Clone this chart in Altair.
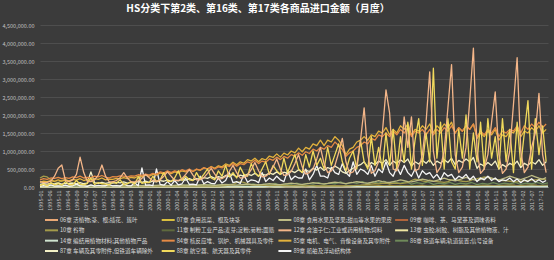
import altair as alt
import pandas as pd

TITLE = "HS分类下第2类、第16类、第17类各商品进口金额（月度）"

KEYS = ["06", "07", "08", "09", "10", "11", "12", "13", "14", "84", "85", "86", "87", "88", "89"]
LABELS = {
    "06": "06章 活植物;茎、根;插花、簇叶",
    "07": "07章 食用蔬菜、根及块茎",
    "08": "08章 食用水果及坚果;甜瓜等水果的果皮",
    "09": "09章 咖啡、茶、马黛茶及调味香料",
    "10": "10章 谷物",
    "11": "11章 制粉工业产品;麦芽;淀粉;菊粉;面筋",
    "12": "12章 含油子仁;工业或药用植物;饲料",
    "13": "13章 虫胶;树胶、树脂及其他植物液、汁",
    "14": "14章 编结用植物材料;其他植物产品",
    "84": "84章 核反应堆、锅炉、机械器具及零件",
    "85": "85章 电机、电气、音像设备及其零附件",
    "86": "86章 铁道车辆;轨道装置;信号设备",
    "87": "87章 车辆及其零附件,但铁道车辆除外",
    "88": "88章 航空器、航天器及其零件",
    "89": "89章 船舶及浮动结构体",
}
COLORS = {
    "06": "#e9a875", "07": "#d9bf3f", "08": "#bdbb84", "09": "#b0643c",
    "10": "#a39a4a", "11": "#5f6a3e", "12": "#f4b689", "13": "#efe6a2",
    "14": "#cfe3cf", "84": "#e58a45", "85": "#e3b23c", "86": "#6f8a5a",
    "87": "#f3f0c6", "88": "#f1da5c", "89": "#f5f5f5",
}

# ---- bi-monthly values (Jan, Mar, May, Jul, Sep, Nov), thousands ----
s12 = [
    150, 120, 130, 160, 300, 520,
    610, 180, 150, 200, 350, 830,
    400, 160, 150, 200, 330, 610,
    300, 150, 140, 180, 260, 400,
    250, 150, 140, 170, 240, 350,
    260, 170, 160, 200, 300, 420,
    300, 190, 180, 230, 350, 480,
    330, 200, 200, 260, 380, 520,
    360, 220, 230, 290, 430, 600,
    400, 250, 260, 330, 480, 680,
    450, 280, 300, 380, 550, 780,
    500, 320, 340, 430, 650, 900,
    560, 360, 400, 500, 780, 1100,
    650, 400, 450, 600, 950, 1350,
    700, 380, 420, 600, 1300, 2200,
    900, 380, 450, 700, 1500, 2700,
    2050, 500, 450, 750, 1950, 1100,
    1950, 450, 500, 900, 1800, 3200,
    1000, 400, 550, 1000, 2200, 3400,
    900, 400, 550, 1100, 2400, 3860,
    1000, 380, 500, 900, 1800, 2640,
    900, 380, 500, 1000, 2300, 3590,
    1000, 400, 550, 1100, 1500, 2600,
    900, 400,
]
s84 = [
    200, 230, 210, 250, 240, 270,
    230, 260, 240, 280, 260, 300,
    250, 270, 260, 300, 280, 320,
    270, 250, 290, 280, 310, 300,
    280, 310, 300, 340, 320, 360,
    330, 380, 350, 420, 390, 450,
    400, 450, 420, 480, 440, 500,
    430, 500, 470, 540, 500, 560,
    500, 560, 530, 600, 570, 650,
    580, 650, 620, 700, 660, 740,
    650, 720, 690, 780, 740, 830,
    760, 850, 800, 900, 860, 950,
    880, 980, 930, 1050, 1000, 1100,
    1050, 1150, 1100, 1250, 1150, 1050,
    850, 950, 1000, 1100, 1150, 1250,
    1200, 1350, 1300, 1450, 1400, 1500,
    1400, 1550, 1450, 1600, 1500, 1650,
    1400, 1550, 1500, 1600, 1450, 1600,
    1450, 1600, 1500, 1650, 1550, 1700,
    1500, 1650, 1550, 1700, 1600, 1750,
    1400, 1550, 1450, 1600, 1500, 1650,
    1400, 1550, 1500, 1600, 1550, 1700,
    1500, 1700, 1600, 1750, 1650, 1800,
    1650, 1750,
]
s85 = [
    130, 160, 150, 180, 160, 200,
    160, 190, 170, 210, 190, 230,
    180, 210, 190, 230, 210, 250,
    200, 220, 210, 240, 230, 260,
    230, 270, 250, 300, 280, 330,
    300, 350, 330, 390, 360, 420,
    370, 420, 390, 450, 420, 480,
    430, 490, 460, 530, 500, 570,
    520, 590, 560, 640, 600, 690,
    620, 700, 660, 760, 720, 800,
    700, 790, 750, 860, 820, 920,
    830, 940, 890, 1000, 950, 1080,
    980, 1100, 1050, 1200, 1150, 1300,
    1150, 1300, 1250, 1400, 1300, 1150,
    900, 1050, 1100, 1250, 1300, 1400,
    1300, 1450, 1400, 1550, 1500, 1650,
    1450, 1600, 1500, 1700, 1600, 1750,
    1450, 1600, 1550, 1700, 1600, 1750,
    1500, 1700, 1600, 1750, 1650, 1800,
    1500, 1650, 1550, 1700, 1600, 1750,
    1350, 1500, 1400, 1550, 1450, 1600,
    1300, 1450, 1400, 1550, 1500, 1650,
    1400, 1550, 1500, 1650, 1550, 1700,
    1500, 1600,
]
s88 = [
    40, 80, 30, 120, 60, 90,
    50, 150, 70, 60, 180, 80,
    60, 100, 250, 70, 120, 90,
    80, 60, 140, 100, 200, 70,
    90, 150, 80, 280, 100, 130,
    120, 300, 150, 200, 400, 160,
    150, 250, 450, 180, 300, 200,
    180, 400, 220, 350, 500, 250,
    200, 450, 300, 600, 280, 400,
    250, 550, 350, 300, 650, 400,
    300, 500, 700, 350, 600, 450,
    350, 800, 400, 650, 900, 500,
    400, 900, 550, 1000, 600, 800,
    500, 1100, 600, 900, 1200, 700,
    450, 800, 1000, 500, 1300, 700,
    500, 1400, 600, 1100, 500, 1500,
    600, 1600, 500, 1400, 700, 1800,
    500, 1300, 1900, 600, 1500, 700,
    3300, 800, 1800, 500, 1900, 700,
    500, 1600, 800, 2000, 500, 1500,
    700, 1800, 500, 1900, 800, 1400,
    500, 1900, 700, 1600, 400, 1800,
    600, 1500, 2400, 500, 1900, 900,
    1700, 700,
]
s87 = [
    70, 90, 80, 100, 85, 110,
    80, 100, 90, 110, 95, 120,
    90, 110, 420, 120, 100, 130,
    100, 120, 110, 130, 115, 140,
    110, 130, 120, 150, 130, 160,
    130, 160, 140, 180, 160, 200,
    160, 190, 170, 210, 190, 230,
    190, 230, 210, 260, 240, 290,
    240, 290, 260, 320, 290, 350,
    280, 330, 300, 360, 320, 380,
    300, 350, 330, 390, 350, 420,
    350, 410, 380, 450, 400, 480,
    400, 470, 430, 520, 470, 550,
    460, 540, 500, 580, 520, 420,
    380, 460, 520, 580, 620, 700,
    560, 680, 620, 720, 660, 760,
    600, 720, 650, 760, 680, 780,
    580, 700, 640, 740, 660, 760,
    600, 720, 660, 760, 680, 800,
    620, 740, 680, 780, 700, 820,
    520, 640, 580, 680, 600, 720,
    500, 620, 560, 660, 600, 720,
    540, 660, 600, 700, 640, 760,
    600, 700,
]
s89 = [
    20, 40, 15, 60, 25, 30,
    25, 50, 20, 35, 80, 30,
    30, 20, 60, 25, 45, 30,
    35, 70, 30, 40, 25, 90,
    40, 30, 120, 35, 530, 50,
    60, 40, 500, 70, 50, 150,
    50, 180, 60, 90, 250, 70,
    80, 60, 300, 90, 150, 100,
    90, 250, 110, 180, 400, 120,
    150, 100, 350, 130, 200, 180,
    120, 400, 150, 250, 180, 300,
    200, 150, 450, 200, 300, 250,
    250, 500, 200, 350, 600, 300,
    300, 250, 550, 400, 350, 650,
    400, 300, 700, 350, 500, 450,
    350, 600, 300, 500, 400, 700,
    400, 300, 550, 350, 600, 400,
    300, 500, 250, 450, 350, 400,
    250, 350, 200, 400, 300, 350,
    200, 300, 250, 350, 200, 300,
    150, 250, 200, 300, 180, 250,
    150, 200, 180, 250, 150, 220,
    120, 200, 150, 230, 140, 200,
    130, 180,
]
s08 = [
    20, 25, 30, 35, 30, 25,
    22, 27, 32, 37, 32, 27,
    24, 29, 34, 40, 35, 30,
    26, 31, 36, 42, 37, 32,
    28, 34, 40, 46, 40, 35,
    32, 38, 45, 52, 45, 40,
    36, 42, 50, 58, 50, 44,
    40, 47, 56, 65, 56, 50,
    45, 53, 62, 72, 62, 55,
    52, 60, 70, 82, 70, 62,
    58, 68, 80, 92, 80, 70,
    66, 78, 90, 105, 92, 80,
    75, 88, 102, 120, 105, 92,
    85, 100, 118, 138, 120, 105,
    95, 112, 130, 152, 132, 115,
    110, 130, 150, 175, 152, 133,
    125, 148, 172, 200, 175, 152,
    140, 165, 192, 222, 195, 170,
    155, 182, 212, 245, 215, 188,
    170, 200, 232, 268, 235, 205,
    180, 212, 246, 285, 250, 218,
    190, 225, 260, 300, 265, 230,
    205, 240, 278, 320, 282, 245,
    220, 260,
]
s10 = [
    250, 300, 280, 200, 150, 120,
    180, 220, 150, 100, 80, 60,
    50, 40, 45, 35, 40, 30,
    35, 30, 40, 30, 35, 28,
    30, 25, 35, 28, 30, 25,
    28, 22, 30, 25, 28, 22,
    30, 25, 32, 28, 30, 26,
    25, 22, 28, 24, 26, 22,
    28, 24, 30, 40, 50, 70,
    120, 150, 130, 90, 60, 50,
    60, 50, 45, 40, 42, 38,
    40, 35, 38, 32, 35, 30,
    30, 28, 32, 30, 28, 26,
    25, 22, 28, 25, 24, 22,
    30, 35, 40, 45, 50, 60,
    70, 80, 90, 85, 100, 110,
    90, 100, 110, 95, 105, 120,
    180, 220, 200, 170, 150, 190,
    160, 150, 140, 130, 150, 200,
    200, 180, 160, 150, 170, 220,
    230, 250, 280, 260, 240, 220,
    200, 180, 170, 160, 150, 140,
    160, 170, 180, 190, 200, 210,
    220, 200,
]

# ---- quarterly values (Jan, Apr, Jul, Oct), thousands ----
q06 = [2, 3, 3, 2, 2, 3, 3, 3, 3, 3, 4, 3, 3, 4, 4, 3, 3, 4, 4, 4, 4, 5, 5, 4,
       4, 5, 6, 5, 5, 6, 6, 5, 5, 6, 7, 6, 6, 7, 8, 7, 7, 8, 9, 8, 8, 9, 10, 9,
       9, 10, 11, 10, 10, 11, 12, 11, 10, 12, 13, 12, 11, 13, 14, 13, 12, 14, 15, 14,
       13, 15, 16, 15, 14, 16, 17, 16, 15, 17, 18, 17, 15, 18, 19, 18, 16, 18, 20, 18,
       17, 19, 21, 19, 18, 20]
q07 = [5, 6, 7, 6, 6, 7, 8, 7, 7, 8, 9, 8, 7, 9, 10, 9, 8, 10, 11, 10, 9, 11, 12, 11,
       10, 12, 14, 12, 11, 13, 15, 13, 12, 15, 17, 14, 14, 17, 19, 16, 16, 19, 22, 18,
       18, 21, 24, 20, 20, 24, 27, 22, 22, 26, 30, 25, 24, 28, 33, 27, 26, 31, 36, 30,
       28, 34, 39, 32, 30, 36, 42, 34, 32, 38, 44, 36, 33, 40, 46, 38, 34, 41, 47, 39,
       36, 43, 49, 41, 38, 45, 52, 43, 40, 47]
q09 = [3, 4, 4, 3, 3, 4, 5, 4, 4, 5, 5, 4, 4, 5, 6, 5, 5, 6, 6, 5, 5, 6, 7, 6,
       6, 7, 8, 7, 7, 8, 9, 8, 8, 9, 10, 9, 9, 10, 11, 10, 10, 11, 13, 11, 11, 13, 14, 12,
       12, 14, 15, 13, 13, 15, 17, 15, 14, 16, 18, 16, 15, 17, 19, 17, 16, 18, 20, 18,
       17, 19, 21, 19, 18, 20, 22, 20, 19, 21, 23, 21, 20, 22, 24, 22, 21, 23, 25, 23,
       22, 24, 26, 24, 23, 25]
q11 = [8, 10, 9, 12, 9, 11, 10, 13, 8, 10, 9, 11, 7, 9, 8, 10, 7, 8, 8, 9, 7, 9, 8, 10,
       8, 10, 9, 11, 9, 11, 10, 12, 10, 12, 11, 13, 11, 13, 12, 14, 12, 14, 13, 16,
       13, 16, 14, 17, 14, 17, 15, 18, 15, 18, 17, 20, 17, 20, 18, 22, 19, 22, 20, 24,
       20, 24, 22, 26, 22, 26, 24, 28, 23, 27, 25, 29, 24, 28, 26, 30, 25, 29, 27, 31,
       26, 30, 28, 32, 27, 31, 29, 33, 28, 32]
q13 = [2, 2, 3, 2, 2, 3, 3, 2, 3, 3, 3, 3, 3, 3, 4, 3, 3, 4, 4, 3, 4, 4, 5, 4,
       4, 5, 5, 4, 5, 5, 6, 5, 5, 6, 6, 5, 6, 6, 7, 6, 6, 7, 8, 7, 7, 8, 8, 7,
       8, 8, 9, 8, 8, 9, 10, 9, 9, 10, 11, 10, 10, 11, 12, 11, 11, 12, 13, 12,
       12, 13, 14, 13, 12, 14, 15, 14, 13, 14, 15, 14, 13, 15, 16, 15, 14, 15, 16, 15,
       14, 16, 17, 16, 15, 16]
q14 = [3, 3, 4, 3, 3, 4, 4, 3, 3, 4, 4, 4, 4, 4, 5, 4, 4, 5, 5, 4, 4, 5, 5, 5,
       5, 5, 6, 5, 5, 6, 6, 6, 6, 6, 7, 6, 6, 7, 7, 7, 7, 7, 8, 7, 7, 8, 8, 8,
       8, 8, 9, 8, 8, 9, 9, 9, 9, 9, 10, 9, 9, 10, 10, 10, 10, 10, 11, 10,
       10, 11, 11, 11, 11, 11, 12, 11, 11, 12, 12, 12, 12, 12, 13, 12, 12, 13, 13, 13,
       13, 13, 14, 13, 13, 14]
q86 = [15, 25, 18, 30, 20, 28, 22, 35, 18, 30, 25, 40, 20, 35, 28, 45, 25, 40, 30, 50,
       28, 45, 35, 55, 30, 50, 40, 60, 35, 55, 45, 70, 40, 65, 50, 80, 45, 70, 55, 90,
       50, 80, 60, 100, 55, 90, 70, 110, 60, 100, 80, 120, 70, 110, 90, 140,
       80, 130, 100, 150, 90, 140, 110, 160, 85, 130, 100, 150, 80, 120, 95, 140,
       75, 110, 90, 130, 70, 105, 85, 125, 65, 100, 80, 120, 70, 105, 85, 125,
       75, 110, 90, 130, 80, 115]

BIMONTHLY = {"12": s12, "84": s84, "85": s85, "88": s88, "87": s87, "89": s89, "08": s08, "10": s10}
QUARTERLY = {"06": q06, "07": q07, "09": q09, "11": q11, "13": q13, "14": q14, "86": q86}

rows = []
for key, vals in BIMONTHLY.items():
    dates = pd.date_range("1995-01-01", periods=len(vals), freq="2MS")
    for d, v in zip(dates, vals):
        rows.append({"date": d.strftime("%Y/%m/%d"), "value": v * 1000, "key": key, "series": LABELS[key]})
for key, vals in QUARTERLY.items():
    dates = pd.date_range("1995-01-01", periods=len(vals), freq="3MS")
    for d, v in zip(dates, vals):
        rows.append({"date": d.strftime("%Y/%m/%d"), "value": v * 1000, "key": key, "series": LABELS[key]})
df = pd.DataFrame(rows)

# legend table: 4 entries per row, in chapter order
NCOL = 4
legend_df = pd.DataFrame([
    {"series": LABELS[k], "col": i % NCOL, "row": i // NCOL} for i, k in enumerate(KEYS)
])

tick_dates = []
for k in range(56):
    m = k * 5
    tick_dates.append(alt.DateTime(year=1995 + m // 12, month=m % 12 + 1, date=1))

FONT = "Noto Sans CJK SC"
color_scale = alt.Scale(domain=[LABELS[k] for k in KEYS], range=[COLORS[k] for k in KEYS])

base = alt.Chart(df).mark_line(strokeWidth=1.3, strokeJoin="round").encode(
    x=alt.X("date:T",
            scale=alt.Scale(domain=[alt.DateTime(year=1995, month=1, date=1),
                                    alt.DateTime(year=2018, month=4, date=1)]),
            axis=alt.Axis(values=tick_dates, format="%Y-%m", labelAngle=270, title=None,
                          labelOverlap=False, ticks=False, grid=False, labelPadding=3,
                          domainColor="#8a8a8a", domainWidth=1)),
    y=alt.Y("value:Q",
            scale=alt.Scale(domain=[0, 4500000], nice=False),
            axis=alt.Axis(values=list(range(0, 4500001, 500000)), format=",.2f", title=None,
                          ticks=False, domain=False, labelPadding=6,
                          gridColor="#5c5c5c", gridWidth=0.6)),
    color=alt.Color("series:N", scale=color_scale, legend=None),
)

draw_order = ["06", "07", "09", "11", "13", "14", "86", "10", "08", "89", "87", "85", "84", "88", "12"]
lines = alt.layer(*[base.transform_filter(alt.datum.key == k) for k in draw_order])

# legend drawn below the plot through its own column / row scales
leg_x = alt.X("col:Q", scale=alt.Scale(domain=[0, 4], range=[11.5, 478.3]), axis=None)
leg_y = alt.Y("row:Q", scale=alt.Scale(domain=[0, 3], range=[195, 226]), axis=None)
leg_sym = alt.Chart(legend_df).mark_point(
    shape="M-1,0H1", size=169, strokeWidth=2, filled=False, opacity=1
).encode(x=leg_x, y=leg_y, color=alt.Color("series:N", scale=color_scale, legend=None))
leg_txt = alt.Chart(legend_df).mark_text(
    align="left", baseline="middle", dx=8.5, fontSize=5.6, font=FONT, color="#d9d9d9"
).encode(x=leg_x, y=leg_y, text="series:N")
legend = alt.layer(leg_sym, leg_txt)

chart = alt.layer(lines, legend).resolve_scale(x="independent", y="independent").properties(
    width=508,
    height=162,
    title=alt.TitleParams(TITLE, fontSize=10, fontWeight="bold", color="#ffffff", font=FONT,
                          anchor="middle", frame="group", dx=-36, offset=9),
    background="#3b3b3b",
    padding={"left": 40, "top": 25, "right": 6, "bottom": 73},
    autosize=alt.AutoSizeParams(type="none"),
).configure_view(stroke=None).configure_axis(
    labelFont=FONT, labelFontSize=5.5, labelColor="#c0c0c0",
)

chart.save("out.html", embed_options={"renderer": "svg", "actions": False})
